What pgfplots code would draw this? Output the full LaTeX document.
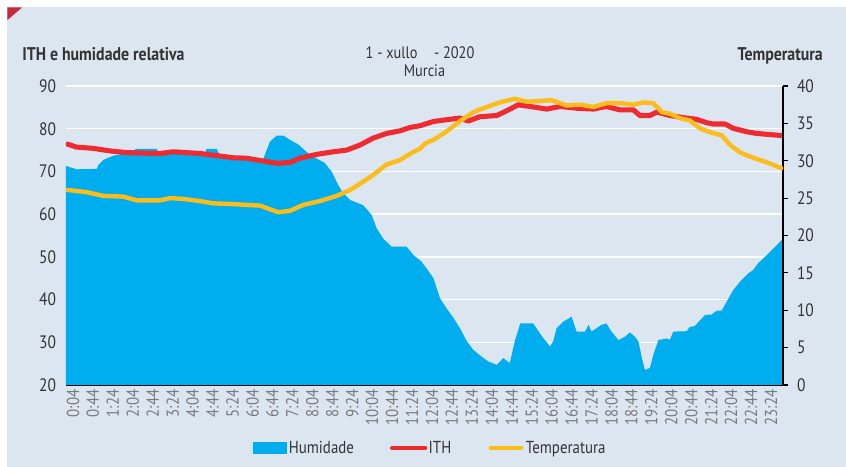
\documentclass[border=0pt]{standalone}
\usepackage{fontspec}
\setmainfont{PT Sans}[FakeStretch=0.86]
\usepackage{pgfplots}
\pgfplotsset{compat=1.18}
\definecolor{bgc}{HTML}{DCE6F0}
\definecolor{humblue}{HTML}{00AEEF}
\definecolor{ithred}{HTML}{EE2B31}
\definecolor{tempyel}{HTML}{FBBC1C}
\definecolor{redtri}{HTML}{C8283C}
\definecolor{txt}{HTML}{333333}
\definecolor{ticklbl}{HTML}{7A7A7A}

% x = minutes after midnight
\pgfplotstableread{
t v
-10 71.3
11 70.5
52 70.6
55 71.5
65 72.7
85 73.7
112 74.3
132 75.3
172 75.3
178 73.9
192 74.4
269 74.4
272 75.3
292 75.3
300 73.5
349 73.2
372 72.8
386 73.0
399 77.0
413 78.4
426 78.4
439 77.4
456 76.3
473 74.5
493 73.0
509 72.0
523 69.9
536 66.8
546 64.9
560 63.3
586 62.1
603 59.8
613 56.7
626 54.3
643 52.4
673 52.4
687 50.4
703 48.9
713 47.3
727 45.0
740 40.3
753 38.0
767 35.7
780 33.3
794 30.2
807 28.2
824 26.6
837 25.5
854 24.7
867 26.3
880 25.1
890 30.2
901 34.4
927 34.4
947 31.0
961 29.0
967 30.2
974 33.3
987 34.8
1004 36.0
1014 32.5
1031 32.5
1038 34.1
1044 32.5
1064 34.1
1074 34.4
1084 32.5
1098 30.5
1111 31.3
1121 32.3
1131 31.3
1138 30.2
1145 26.3
1151 23.5
1161 24.0
1168 27.1
1178 30.5
1195 30.9
1201 30.6
1208 32.5
1235 32.6
1241 33.6
1251 33.8
1262 35.2
1272 36.4
1285 36.5
1295 37.4
1305 37.4
1315 39.5
1328 42.2
1342 44.2
1358 46.1
1368 46.9
1378 48.5
1392 50.0
1409 52.0
1428 54.2
}\humtab

\pgfplotstableread{
t v
-7 76.4
11 75.7
45 75.4
78 74.8
112 74.4
178 74.2
205 74.6
259 74.2
292 73.7
326 73.2
352 73.1
372 72.7
413 71.9
439 72.1
459 73.1
493 74.0
526 74.6
553 75.0
580 76.2
606 77.8
633 78.9
660 79.5
680 80.3
700 80.7
727 81.7
753 82.1
780 82.5
797 81.8
820 82.8
854 83.1
874 84.2
897 85.6
921 85.2
954 84.6
981 85.2
1014 84.8
1048 84.6
1064 85.0
1074 85.2
1101 84.4
1128 84.4
1141 83.1
1161 83.1
1175 83.9
1201 83.1
1228 82.6
1255 82.2
1275 81.4
1288 81.1
1312 81.1
1328 80.1
1355 79.3
1375 78.9
1395 78.7
1425 78.4
}\ithtab

\pgfplotstableread{
t v
-7 26.1
31 25.8
65 25.3
105 25.2
132 24.7
178 24.7
199 25.0
225 24.9
259 24.6
285 24.3
326 24.2
349 24.1
379 24.0
416 23.1
439 23.3
466 24.1
499 24.6
533 25.3
560 26.1
586 27.2
606 28.1
633 29.5
660 30.1
687 31.2
700 31.6
710 32.3
727 32.8
753 33.9
780 35.3
807 36.5
834 37.2
860 37.8
890 38.3
914 37.9
941 38.0
964 38.1
994 37.4
1021 37.5
1048 37.2
1074 37.7
1101 37.7
1128 37.5
1148 37.8
1168 37.7
1185 36.5
1201 36.3
1221 35.7
1241 35.4
1262 34.3
1282 33.8
1305 33.4
1322 32.1
1342 31.1
1368 30.4
1395 29.8
1425 29.0
}\temptab

\begin{document}
\begin{tikzpicture}
% background, in pixel units measured from the top-left corner
\begin{scope}[x=0.75pt,y=-0.75pt,shift={(-49.5pt,288.75pt)}]
\fill[white] (0,0) rectangle (846,467);
\fill[bgc] (7.5,7.5) rectangle (846,467);
\fill[redtri] (7.5,7.5) -- (22,7.5) -- (7.5,20) -- cycle;
\end{scope}

\pgfplotsset{
  common/.style={
    scale only axis, width=537.75pt, height=224.25pt,
    xmin=-10, xmax=1428,
    /pgf/number format/assume math mode=true,
  },
}

\begin{axis}[common,
  ymin=20, ymax=90,
  axis x line*=bottom, axis y line*=left,
  y axis line style={draw=none},
  x axis line style={black, line width=0.8pt, -},
  ytick={20,30,...,90},
  ymajorgrids, major grid style={white, line width=1.1pt},
  major tick length=0pt,
  xtick={4,44,...,1404},
  xticklabels={0:04,0:44,1:24,2:04,2:44,3:24,4:04,4:44,5:24,6:04,6:44,7:24,8:04,8:44,9:24,10:04,10:44,11:24,12:04,12:44,13:24,14:04,14:44,15:24,16:04,16:44,17:24,18:04,18:44,19:24,20:04,20:44,21:24,22:04,22:44,23:24},
  xticklabel style={rotate=90, anchor=east, font=\fontsize{13}{13}\selectfont, text=ticklbl},
  yticklabel style={font=\fontsize{13.5}{14}\selectfont, text=txt, xshift=-4pt},
  legend columns=3,
  legend style={at={(0.508,-0.211)}, anchor=center, draw=none, fill=none,
    font=\fontsize{13}{14}\selectfont, text=txt,
    nodes={inner sep=1pt},
    /tikz/every even column/.append style={column sep=26pt}},
]
\addplot[draw=none, fill=humblue,
  legend image code/.code={\fill[humblue] (0pt,-4.2pt) rectangle (25.5pt,4.2pt);}]
  table[x=t, y=v] {\humtab} \closedcycle;
\addlegendentry{Humidade}
\addplot[ithred, line width=3.8pt, line join=round, line cap=round,
  legend image code/.code={\draw[ithred, line width=3pt] (0pt,0pt) -- (25pt,0pt);}]
  table[x=t, y=v] {\ithtab};
\addlegendentry{ITH}
\addlegendimage{legend image code/.code={\draw[tempyel, line width=3pt] (0pt,0pt) -- (25pt,0pt);}}
\addlegendentry{Temperatura}
\end{axis}

\begin{axis}[common,
  ymin=0, ymax=40,
  axis x line=none, axis y line*=right,
  y axis line style={black, line width=0.8pt, -},
  ytick={0,5,...,40}, tick align=outside, major tick length=4pt,
  ytick style={black, line width=0.8pt},
  yticklabel style={font=\fontsize{13.5}{14}\selectfont, text=txt, xshift=3pt},
]
\addplot[tempyel, line width=3.3pt, line join=round, line cap=round]
  table[x=t, y=v] {\temptab};
\end{axis}

\begin{scope}[x=0.75pt,y=-0.75pt,shift={(-49.5pt,288.75pt)}]
\node[anchor=base west, inner sep=0pt, text=txt, font=\bfseries\fontsize{13.8}{15}\selectfont] at (22,61) {ITH e humidade relativa};
\node[anchor=base east, inner sep=0pt, text=txt, font=\bfseries\fontsize{13.8}{15}\selectfont] at (823,61) {Temperatura};
\node[anchor=base, inner sep=0pt, text=txt, font=\fontsize{12.5}{14}\selectfont] at (420,59) {1 - xullo\quad - 2020};
\node[anchor=base, inner sep=0pt, text=txt, font=\fontsize{12.5}{14}\selectfont] at (424.5,77) {Murcia};
\pgfresetboundingbox
\useasboundingbox (0,0) rectangle (846,467);
\end{scope}
\end{tikzpicture}
\end{document}
